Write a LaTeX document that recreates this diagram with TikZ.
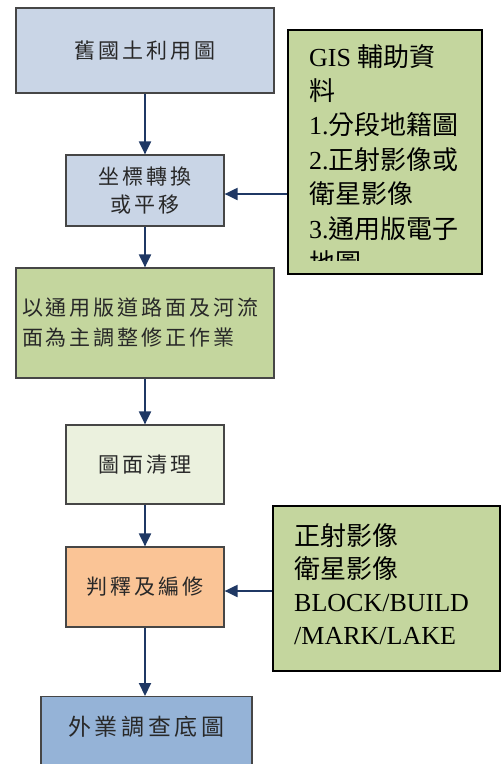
\documentclass[tikz,border=0pt]{standalone}
\usepackage{fontspec}
\setmainfont{Liberation Serif}
\newfontfamily\cjk{Noto Sans CJK TC}
\newfontfamily\cjksp[LetterSpace=14]{Noto Sans CJK TC}
\newfontfamily\cjkwide[LetterSpace=16]{Noto Sans CJK TC}
\usetikzlibrary{arrows.meta}
\definecolor{boxblue}{RGB}{201,213,230}
\definecolor{boxgreen}{RGB}{196,214,158}
\definecolor{boxpale}{RGB}{235,241,222}
\definecolor{boxorange}{RGB}{250,196,150}
\definecolor{boxdeep}{RGB}{149,179,215}
\definecolor{arrowblue}{RGB}{31,56,100}
\definecolor{edgegray}{RGB}{70,70,70}
\definecolor{txt}{RGB}{40,40,40}
\tikzset{
  flowbox/.style={draw=edgegray, line width=1.2pt, rectangle, inner sep=0pt, text=txt,
    font=\cjksp\fontsize{21}{28}\selectfont, align=center},
  notebox/.style={draw=black, line width=1.4pt, rectangle, fill=boxgreen, inner sep=0pt},
  notetext/.style={anchor=north west, inner sep=0pt, align=left, text=black,
    font=\fontsize{26}{34.4}\selectfont},
  arr/.style={draw=arrowblue, line width=2pt, -{Triangle[length=13pt,width=12pt]}}
}
\begin{document}
\begin{tikzpicture}[x=1pt,y=-1pt]
\useasboundingbox (0,0) rectangle (501,764);
\clip (0,0) rectangle (501,764);
\node[flowbox, fill=boxblue, minimum width=258pt, minimum height=85pt] (b1) at (145,50.5) {舊國土利用圖};
\node[flowbox, fill=boxblue, minimum width=158pt, minimum height=71pt] (b2) at (145,190.5) {坐標轉換\\或平移};
\node[flowbox, fill=boxgreen, minimum width=258pt, minimum height=110pt, text width=246pt, align=left, font=\cjksp\fontsize{21}{30}\selectfont] (b3) at (145,323) {以通用版道路面及河流\\面為主調整修正作業};
\node[flowbox, fill=boxpale, minimum width=158pt, minimum height=79pt] (b4) at (145,464.5) {圖面清理};
\node[flowbox, fill=boxorange, minimum width=158pt, minimum height=80pt] (b5) at (145,587) {判釋及編修};
\node[flowbox, fill=boxdeep, minimum width=211pt, minimum height=100pt, anchor=north] (b6) at (146.5,696) {};
\node[text=txt, font=\cjkwide\fontsize{23}{28}\selectfont] (b6t) at (146.5,727) {外業調查底圖};
\node[notebox, minimum width=194pt, minimum height=244pt] (gis) at (385,152) {};
\begin{scope}
\clip (290,32) rectangle (480,260);
\node[notetext] (gist) at (309,44) {GIS {\cjk 輔助資}\\{\cjk 料}\\1.{\cjk 分段地籍圖}\\2.{\cjk 正射影像或}\\{\cjk 衛星影像}\\3.{\cjk 通用版電子}\\{\cjk 地圖}};
\end{scope}
\node[notebox, minimum width=227pt, minimum height=165pt] (img) at (386.5,588.5) {};
\node[notetext, font=\fontsize{26}{33}\selectfont] (imgt) at (294,523) {{\cjk 正射影像}\\{\cjk 衛星影像}\\BLOCK/BUILD\\/MARK/LAKE};
\draw[arr] (b1) -- (b2);
\draw[arr] (b2) -- (b3);
\draw[arr] (b3) -- (b4);
\draw[arr] (b4) -- (b5);
\draw[arr] (b5) -- (b5 |- b6.north);
\draw[arr] (gis.west |- 0,194) -- (b2.east |- 0,194);
\draw[arr] (img.west |- 0,591) -- (b5.east |- 0,591);
\end{tikzpicture}
\end{document}
